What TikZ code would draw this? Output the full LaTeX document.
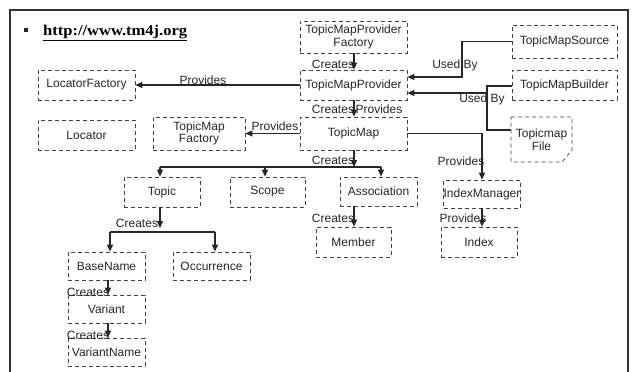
\documentclass[tikz,border=0pt]{standalone}
\usepackage{fontspec}
\setmainfont{Liberation Sans}
\newfontfamily\urlfont{Liberation Serif}
\usetikzlibrary{arrows.meta,calc}
\begin{document}
\begin{tikzpicture}[x=1pt,y=-1pt,
  box/.style={draw=black!75, line width=0.7pt, dash pattern=on 4pt off 3pt, inner sep=0pt, align=center,
     font=\fontsize{12}{12.5}\selectfont, text=black!85},
  lbl/.style={font=\fontsize{12}{12}\selectfont, text=black!85, inner sep=0pt},
  conn/.style={line width=1.1pt, draw=black!85},
  arr/.style={conn, -{Triangle[length=7pt,width=6pt]}},
  frame/.style={line width=1.2pt, draw=black!80}]
\useasboundingbox (0,0) rectangle (635,372);
% frame
\draw[frame] (10,372) -- (10,10) -- (628,10) -- (628,372);
% url
\fill[black!85] (23.5,28) rectangle (27.5,32);
\node[anchor=base west, inner sep=0pt, font=\urlfont\bfseries\fontsize{15}{15}\selectfont] (url) at (43,35)
  {\scalebox{1.1}[1]{\underline{http://www.tm4j.org}}};
% boxes
\node[box, minimum width=107, minimum height=32] (tmpf) at (353.5,37) {TopicMapProvider\\Factory};
\node[box, minimum width=105, minimum height=33] (tms) at (564.5,41.5) {TopicMapSource};
\node[box, minimum width=107, minimum height=30] (tmp) at (353.5,85) {TopicMapProvider};
\node[box, minimum width=105, minimum height=30] (tmb) at (564.5,85) {TopicMapBuilder};
\draw[draw=black!75, line width=0.7pt, dash pattern=on 4pt off 3pt] (511,117) -- (572,117) -- (572,150) -- (562,162) -- (511,162) -- cycle;
\node[box, draw=none, minimum width=61, minimum height=45] (tmfile) at (541.5,139.5) {Topicmap\\File};
\node[box, minimum width=97, minimum height=30] (lf) at (86.5,85) {LocatorFactory};
\node[box, minimum width=97, minimum height=30] (loc) at (86.5,135) {Locator};
\node[box, minimum width=92, minimum height=33] (tmfac) at (199,133.5) {TopicMap\\Factory};
\node[box, minimum width=107, minimum height=33] (tm) at (353.5,133.5) {TopicMap};
\node[box, minimum width=76, minimum height=30] (topic) at (162,192) {Topic};
\node[box, minimum width=75, minimum height=30] (scope) at (267.5,192) {Scope};
\node[box, minimum width=77, minimum height=29] (assoc) at (378.5,191.5) {Association};
\node[box, minimum width=76, minimum height=28] (im) at (482,194) {IndexManager};
\node[box, minimum width=75, minimum height=30] (member) at (353.5,242) {Member};
\node[box, minimum width=76, minimum height=30] (index) at (479,242) {Index};
\node[box, minimum width=77, minimum height=28] (bn) at (106.5,266) {BaseName};
\node[box, minimum width=77, minimum height=28] (occ) at (211.5,266) {Occurrence};
\node[box, minimum width=77, minimum height=28] (var) at (106.5,309) {Variant};
\node[box, minimum width=77, minimum height=28] (vn) at (106.5,352) {VariantName};
% junction coordinates
\coordinate (jA) at (462,77);
\coordinate (jB) at (487,93);
\coordinate (jBt) at (487,86);
\coordinate (jBb) at (487,130);
\coordinate (jC) at (354,167);
\coordinate (jCl) at (160,167);
\coordinate (jCm) at (265,167);
\coordinate (jCr) at (381,167);
\coordinate (jD) at (482,133.5);
\coordinate (jE) at (160,232);
\coordinate (jEl) at (110,232);
\coordinate (jEr) at (215,232);
% connectors
\draw[arr] (tmpf.south -| 354,0) -- (tmp.north -| 354,0);
\draw[arr] (tmp.west) -- (lf.east);
\draw[arr] (tmp.south -| 354,0) -- (tm.north -| 354,0);
\draw[arr] (tm.west) -- (tmfac.east);
\draw[arr] (tms.west) -| (jA) -- (jA -| tmp.east);
\draw[conn] (jBt -| tmb.west) -- (jBt) -- (jBb) -- (jBb -| tmfile.west);
\draw[arr] (jB) -- (jB -| tmp.east);
\draw[arr] (tm.south -| jC) -- (jC);
\draw[conn] (jCl) -- (jCr);
\draw[arr] (jCl) -- (jCl |- topic.north);
\draw[arr] (jCm) -- (jCm |- scope.north);
\draw[arr] (jCr) -- (jCr |- assoc.north);
\draw[arr] (tm.east) -- (jD) -- (im.north -| jD);
\draw[arr] (im.south -| jD) -- (index.north -| jD);
\draw[arr] (assoc.south -| 354,0) -- (member.north -| 354,0);
\draw[arr] (topic.south -| jE) -- ($(jE)+(0,-4)$);
\draw[conn] (jEl) -- (jEr);
\draw[arr] (jEl) -- (jEl |- bn.north);
\draw[arr] (jEr) -- (jEr |- occ.north);
\draw[arr] (bn.south -| 108,0) -- (var.north -| 108,0);
\draw[arr] (var.south -| 108,0) -- (vn.north -| 108,0);
% labels
\node[lbl] (l1) at (333,64) {Creates};
\node[lbl] (l2) at (203,80) {Provides};
\node[lbl] (l3) at (333,109) {Creates};
\node[lbl] (l4) at (379,109) {Provides};
\node[lbl] (l5) at (275,126) {Provides};
\node[lbl] (l6) at (455,65) {Used By};
\node[lbl] (l7) at (482,99) {Used By};
\node[lbl] (l8) at (333,160) {Creates};
\node[lbl] (l9) at (461,161) {Provides};
\node[lbl] (l10) at (463,218) {Provides};
\node[lbl] (l11) at (333,218) {Creates};
\node[lbl] (l12) at (137,223) {Creates};
\node[lbl] (l13) at (88,292) {Creates};
\node[lbl] (l14) at (88,335) {Creates};
\end{tikzpicture}
\end{document}
